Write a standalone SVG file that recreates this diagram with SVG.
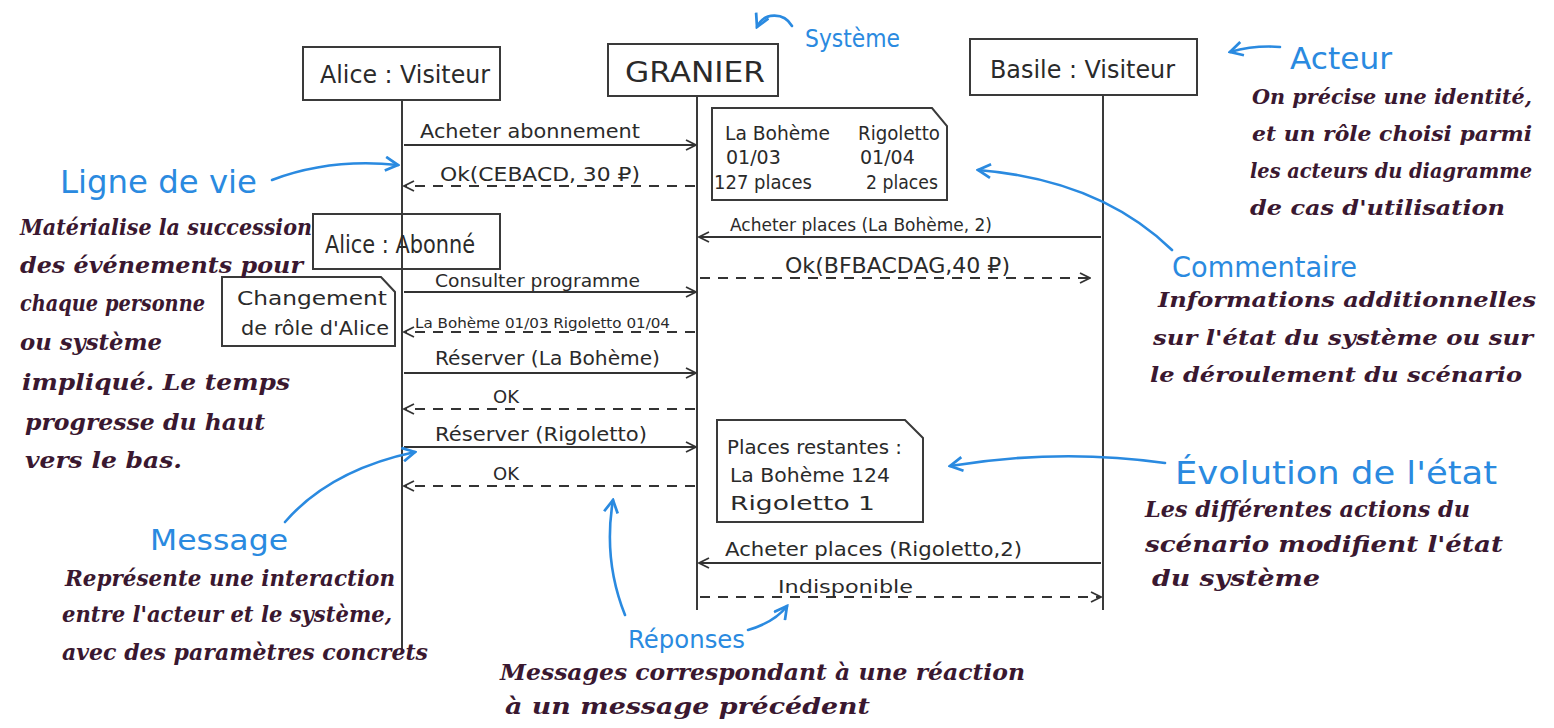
<svg xmlns="http://www.w3.org/2000/svg" width="1554" height="728" viewBox="0 0 1554 728">
<style>
.box{fill:none;stroke:#3a3a3a;stroke-width:2}
.life{stroke:#3a3a3a;stroke-width:2;fill:none}
.msg{stroke:#333;stroke-width:1.8;fill:none;marker-end:url(#ah)}
.ret{stroke:#333;stroke-width:1.8;fill:none;stroke-dasharray:10 8;marker-end:url(#ah)}
.lbl{font-family:"DejaVu Sans",sans-serif;fill:#2a2a2a}
.ann{stroke:#2a8ae0;stroke-width:2.6;fill:none;marker-end:url(#bh);stroke-linecap:round}
.blue{font-family:"DejaVu Sans",sans-serif;fill:#2a8ae0}
.hand{font-family:"DejaVu Serif",serif;font-style:italic;font-weight:bold;fill:#3a1830}
</style>
<defs>
<marker id="ah" viewBox="0 0 12 12" refX="11" refY="6" markerWidth="12" markerHeight="12" markerUnits="userSpaceOnUse" orient="auto">
<path d="M1,1 L11,6 L1,11" fill="none" stroke="#333" stroke-width="1.8"/>
</marker>
<marker id="bh" viewBox="0 0 14 14" refX="12" refY="7" markerWidth="16" markerHeight="16" markerUnits="userSpaceOnUse" orient="auto">
<path d="M1,1 L12,7 L1,13" fill="none" stroke="#2a8ae0" stroke-width="2.4"/>
</marker>
</defs>

<g id="connectors">
<path class="life" d="M402,100 V650"/>
<path class="life" d="M697,96 V610"/>
<path class="life" d="M1103,95 V610"/>
<path class="msg" d="M404,145 H696"/>
<path class="ret" d="M695,186 H404"/>
<path class="msg" d="M1101,237 H699"/>
<path class="ret" d="M700,278 H1090"/>
<path class="msg" d="M404,292 H696"/>
<path class="ret" d="M695,332 H404"/>
<path class="msg" d="M404,373 H696"/>
<path class="ret" d="M695,409 H404"/>
<path class="msg" d="M404,447 H696"/>
<path class="ret" d="M695,486 H404"/>
<path class="msg" d="M1101,563 H699"/>
<path class="ret" d="M700,597 H1101"/>
</g>

<g id="messages">
<text class="lbl" x="420" y="138" font-size="20" textLength="220" lengthAdjust="spacingAndGlyphs">Acheter abonnement</text>
<text class="lbl" x="440" y="181" font-size="20" textLength="200" lengthAdjust="spacingAndGlyphs">Ok(CEBACD, 30 ₽)</text>
<text class="lbl" x="730" y="231" font-size="18" textLength="262" lengthAdjust="spacingAndGlyphs">Acheter places (La Bohème, 2)</text>
<text class="lbl" x="785" y="273" font-size="21" textLength="225" lengthAdjust="spacingAndGlyphs">Ok(BFBACDAG,40 ₽)</text>
<text class="lbl" x="435" y="287" font-size="18" textLength="205" lengthAdjust="spacingAndGlyphs">Consulter programme</text>
<text class="lbl" x="415" y="328" font-size="14" textLength="255" lengthAdjust="spacingAndGlyphs">La Bohème 01/03     Rigoletto 01/04</text>
<text class="lbl" x="435" y="365" font-size="20" textLength="225" lengthAdjust="spacingAndGlyphs">Réserver (La Bohème)</text>
<text class="lbl" x="493" y="403" font-size="18">OK</text>
<text class="lbl" x="435" y="441" font-size="20" textLength="212" lengthAdjust="spacingAndGlyphs">Réserver (Rigoletto)</text>
<text class="lbl" x="493" y="480" font-size="18">OK</text>
<text class="lbl" x="725" y="556" font-size="20" textLength="297" lengthAdjust="spacingAndGlyphs">Acheter places (Rigoletto,2)</text>
<text class="lbl" x="778" y="593" font-size="18" textLength="135" lengthAdjust="spacingAndGlyphs">Indisponible</text>
</g>

<g id="alice-visiteur">
<rect class="box" x="303" y="47" width="197" height="53" fill="#fff"/>
<text class="lbl" x="320" y="83" font-size="24" textLength="170" lengthAdjust="spacingAndGlyphs">Alice : Visiteur</text>
</g>
<g id="granier">
<rect class="box" x="608" y="44" width="170" height="52" fill="#fff"/>
<text class="lbl" x="625" y="82" font-size="28" textLength="140" lengthAdjust="spacingAndGlyphs">GRANIER</text>
</g>
<g id="basile-visiteur">
<rect class="box" x="970" y="39" width="227" height="56" fill="#fff"/>
<text class="lbl" x="990" y="78" font-size="24" textLength="185" lengthAdjust="spacingAndGlyphs">Basile : Visiteur</text>
</g>
<g id="alice-abonne">
<rect class="box" x="313" y="214" width="187" height="55"/>
<text class="lbl" x="325" y="253" font-size="24" textLength="150" lengthAdjust="spacingAndGlyphs">Alice : Abonné</text>
</g>
<g id="note-changement">
<path class="box" d="M222,277 H381 L395,292 V346 H222 Z"/>
<text class="lbl" x="237" y="305" font-size="19" textLength="150" lengthAdjust="spacingAndGlyphs">Changement</text>
<text class="lbl" x="241" y="335" font-size="19" textLength="148" lengthAdjust="spacingAndGlyphs">de rôle d'Alice</text>
</g>
<g id="note-programme">
<path class="box" d="M712,108 H932 L947,126 V200 H712 Z"/>
<g class="lbl" font-size="19">
<text x="725" y="140" textLength="105" lengthAdjust="spacingAndGlyphs">La Bohème</text>
<text x="858" y="140" textLength="82" lengthAdjust="spacingAndGlyphs">Rigoletto</text>
<text x="726" y="164">01/03</text>
<text x="860" y="164">01/04</text>
<text x="714" y="189" textLength="98" lengthAdjust="spacingAndGlyphs">127 places</text>
<text x="866" y="189" textLength="72" lengthAdjust="spacingAndGlyphs">2 places</text>
</g>
</g>
<g id="note-restantes">
<path class="box" d="M717,420 H905 L923,438 V522 H717 Z"/>
<g class="lbl" font-size="19">
<text x="727" y="454" textLength="175" lengthAdjust="spacingAndGlyphs">Places restantes :</text>
<text x="730" y="482" textLength="160" lengthAdjust="spacingAndGlyphs">La Bohème 124</text>
<text x="730" y="510" textLength="145" lengthAdjust="spacingAndGlyphs">Rigoletto  1</text>
</g>
</g>

<g id="ann-systeme">
<path class="ann" d="M792,26 C784,12 764,12 757,27"/>
<text class="blue" x="805" y="47" font-size="24" textLength="95" lengthAdjust="spacingAndGlyphs">Système</text>
</g>
<g id="ann-acteur">
<path class="ann" d="M1280,47 Q1255,45 1230,52"/>
<text class="blue" x="1290" y="69" font-size="30" textLength="102" lengthAdjust="spacingAndGlyphs">Acteur</text>
<g class="hand" font-size="20">
<text x="1252" y="104" textLength="280" lengthAdjust="spacingAndGlyphs">On précise une identité,</text>
<text x="1252" y="141" textLength="280" lengthAdjust="spacingAndGlyphs">et un rôle choisi parmi</text>
<text x="1250" y="178" textLength="282" lengthAdjust="spacingAndGlyphs">les acteurs du diagramme</text>
<text x="1250" y="215" textLength="255" lengthAdjust="spacingAndGlyphs">de cas d'utilisation</text>
</g>
</g>
<g id="ann-ligne">
<path class="ann" d="M272,180 Q330,158 398,165"/>
<text class="blue" x="60" y="193" font-size="32" textLength="197" lengthAdjust="spacingAndGlyphs">Ligne de vie</text>
<g class="hand" font-size="23">
<text x="20" y="235" textLength="292" lengthAdjust="spacingAndGlyphs">Matérialise la succession</text>
<text x="20" y="273" textLength="283" lengthAdjust="spacingAndGlyphs">des événements pour</text>
<text x="20" y="311" textLength="185" lengthAdjust="spacingAndGlyphs">chaque personne</text>
<text x="20" y="350" textLength="142" lengthAdjust="spacingAndGlyphs">ou système</text>
<text x="22" y="390" textLength="268" lengthAdjust="spacingAndGlyphs">impliqué. Le temps</text>
<text x="25" y="430" textLength="240" lengthAdjust="spacingAndGlyphs">progresse du haut</text>
<text x="25" y="468" textLength="157" lengthAdjust="spacingAndGlyphs">vers le bas.</text>
</g>
</g>
<g id="ann-commentaire">
<path class="ann" d="M1172,250 Q1100,180 978,170"/>
<text class="blue" x="1172" y="277" font-size="28" textLength="185" lengthAdjust="spacingAndGlyphs">Commentaire</text>
<g class="hand" font-size="21">
<text x="1158" y="307" textLength="378" lengthAdjust="spacingAndGlyphs">Informations additionnelles</text>
<text x="1153" y="345" textLength="380" lengthAdjust="spacingAndGlyphs">sur l'état du système ou sur</text>
<text x="1150" y="382" textLength="372" lengthAdjust="spacingAndGlyphs">le déroulement du scénario</text>
</g>
</g>
<g id="ann-evolution">
<path class="ann" d="M1165,463 Q1060,448 950,466"/>
<text class="blue" x="1175" y="484" font-size="32" textLength="322" lengthAdjust="spacingAndGlyphs">Évolution de l'état</text>
<g class="hand" font-size="23">
<text x="1145" y="517" textLength="325" lengthAdjust="spacingAndGlyphs">Les différentes actions du</text>
<text x="1145" y="552" textLength="358" lengthAdjust="spacingAndGlyphs">scénario modifient l'état</text>
<text x="1152" y="586" textLength="168" lengthAdjust="spacingAndGlyphs">du système</text>
</g>
</g>
<g id="ann-message">
<path class="ann" d="M285,522 Q330,470 415,452"/>
<text class="blue" x="150" y="550" font-size="28" textLength="138" lengthAdjust="spacingAndGlyphs">Message</text>
<g class="hand" font-size="23">
<text x="65" y="586" textLength="330" lengthAdjust="spacingAndGlyphs">Représente une interaction</text>
<text x="62" y="622" textLength="330" lengthAdjust="spacingAndGlyphs">entre l'acteur et le système,</text>
<text x="62" y="660" textLength="366" lengthAdjust="spacingAndGlyphs">avec des paramètres concrets</text>
</g>
</g>
<g id="ann-reponses">
<path class="ann" d="M625,615 Q603,560 613,500"/>
<path class="ann" d="M748,630 Q775,622 787,606"/>
<text class="blue" x="628" y="648" font-size="24" textLength="117" lengthAdjust="spacingAndGlyphs">Réponses</text>
<g class="hand" font-size="23">
<text x="500" y="680" textLength="525" lengthAdjust="spacingAndGlyphs">Messages correspondant à une réaction</text>
<text x="505" y="714" textLength="365" lengthAdjust="spacingAndGlyphs">à un message précédent</text>
</g>
</g>
</svg>
